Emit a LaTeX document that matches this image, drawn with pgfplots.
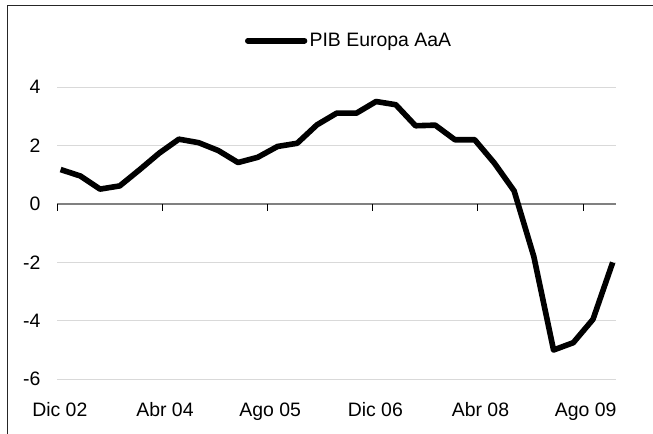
\documentclass[border=0pt]{standalone}
\usepackage{fontspec}
\setmainfont{Liberation Sans}
\usepackage{pgfplots}
\usepackage{pgfplotstable}
\pgfplotsset{compat=1.18}
\definecolor{gridc}{HTML}{D9D9D9}
\definecolor{zeroc}{HTML}{808080}

% PIB Europa, variacion anual, trimestral (x = meses desde Dic 02)
\pgfplotstableread{
m     v
0.5   1.18
3.5   0.96
6.5   0.51
9.5   0.62
12.5  1.17
15.5  1.74
18.5  2.22
21.5  2.10
24.5  1.83
27.5  1.42
30.5  1.60
33.5  1.97
36.5  2.08
39.5  2.71
42.5  3.11
45.5  3.11
48.5  3.51
51.5  3.40
54.5  2.68
57.5  2.70
60.5  2.20
63.5  2.20
66.5  1.40
69.5  0.45
72.5  -1.80
75.5  -5.00
78.5  -4.75
81.5  -3.95
84.5  -2.00
}\pib

\begin{document}
\begin{tikzpicture}
  \useasboundingbox (0bp,0bp) rectangle (653bp,434bp);
  \draw[line width=1.5bp, black!85] (7.3bp,-2bp) -- (7.3bp,428.5bp) -- (656bp,428.5bp);
  \begin{axis}[
      at={(57.3bp,54.8bp)}, anchor=south west,
      scale only axis, width=558.7bp, height=292bp,
      xmin=0, xmax=85, ymin=-6, ymax=4,
      clip=false,
      axis line style={draw=none},
      major tick style={draw=none},
      font=\fontsize{19.5}{23}\selectfont,
      /pgf/number format/assume math mode=true,
      xtick={0,16,32,48,64,80},
      xticklabels={Dic 02, Abr 04, Ago 05, Dic 06, Abr 08, Ago 09},
      xticklabel style={anchor=base, inner sep=0pt, yshift=-36.8bp, xshift=2.5bp},
      ytick={-6,-4,-2,2,4},
      extra y ticks={0},
      extra y tick style={grid style={zeroc, line width=1.3bp}},
      yticklabel style={anchor=east, inner sep=0pt, xshift=-16.6bp},
      ymajorgrids,
      grid style={gridc, line width=1bp},
      legend style={draw=none, fill=none, inner sep=0pt, outer sep=0pt,
        nodes={inner sep=0pt}, at={(rel axis cs:0.336,1.159)}, anchor=west},
      legend image code/.code={
        \draw[#1, line cap=round] (0bp,0bp) -- (56.7bp,0bp);
        \path (59bp,0bp);},
    ]
    \addplot[black, line width=5.6bp, line join=round] table[x=m, y=v] {\pib};
    \addlegendentry{PIB Europa AaA}
    \foreach \t in {0,16,32,48,64,80} {
      \edef\tmp{\noexpand\draw[black, line width=1bp] (axis cs:\t,0) -- ++(0bp,-6.5bp);}
      \tmp
    }
  \end{axis}
\end{tikzpicture}
\end{document}
